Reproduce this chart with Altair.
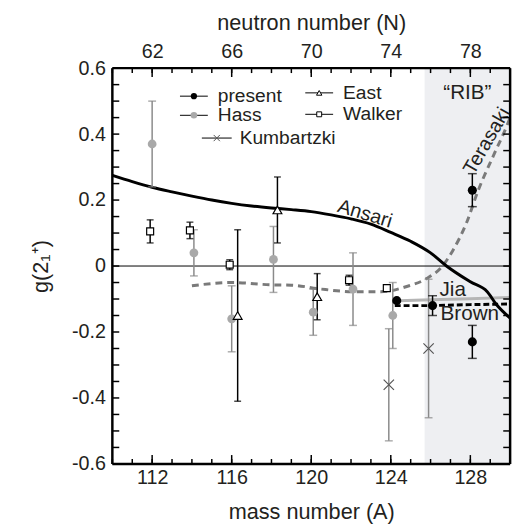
import altair as alt
import pandas as pd

# ---------------- data ----------------
present_A = [124.3, 126.1, 128.1, 128.1]
present_g = [-0.105, -0.12, -0.23, 0.23]
present_err = [0.0, 0.03, 0.05, 0.05]

hass_A = [112.0, 114.1, 116.0, 118.1, 120.1, 122.1, 124.1]
hass_g = [0.37, 0.04, -0.16, 0.02, -0.14, -0.07, -0.15]
hass_err = [0.13, 0.07, 0.10, 0.10, 0.07, 0.11, 0.10]

walker_A = [111.9, 113.9, 115.9, 121.9, 123.8]
walker_g = [0.105, 0.108, 0.004, -0.043, -0.067]
walker_err = [0.035, 0.025, 0.015, 0.015, 0.008]

east_A = [116.3, 118.3, 120.3]
east_g = [-0.15, 0.17, -0.093]
east_err = [0.26, 0.10, 0.07]

kumb_A = [123.9, 125.9]
kumb_g = [-0.36, -0.25]
kumb_err = [0.17, 0.21]

ansari_A = [110, 111, 112, 113, 114, 115, 116, 117, 118, 119, 120, 121, 122, 123, 124, 125,
            126, 126.8, 128, 128.85, 129.3, 130]
ansari_g = [0.275, 0.256, 0.239, 0.225, 0.212, 0.200, 0.19, 0.182, 0.176, 0.171, 0.165,
            0.155, 0.143, 0.127, 0.102, 0.075, 0.04, 0.0, -0.048, -0.078, -0.116, -0.158]

terasaki_A = [114, 116, 118, 119, 120.5, 122.2, 123.5, 124.8, 125.8, 126.6, 127.1, 127.8,
              128.4, 129.2, 129.8, 130]
terasaki_g = [-0.06, -0.05, -0.057, -0.058, -0.07, -0.078, -0.078, -0.062, -0.038, 0.0,
              0.045, 0.13, 0.23, 0.34, 0.42, 0.45]

jia_A = [124.4, 126, 128, 130]
jia_g = [-0.105, -0.102, -0.099, -0.095]

brown_A = [124.2, 126, 128, 130]
brown_g = [-0.12, -0.12, -0.117, -0.115]

rib_range = [125.7, 130]

x_major = [112, 116, 120, 124, 128]
x_minor = list(range(110, 131))
y_major = [-0.6, -0.4, -0.2, 0, 0.2, 0.4, 0.6]
y_minor = [round(-0.6 + 0.05 * i, 2) for i in range(25)]

# ---------------- layout ----------------
W, H = 404, 402
FONT = "Liberation Sans"
TXT = "#231f20"
GRAY_PT = "#a9a9a9"
GRAY_BAR = "#8a8a8a"

xs = alt.Scale(domain=[110, 130], nice=False, zero=False)
ys = alt.Scale(domain=[-0.6, 0.6], nice=False, zero=False)


def X(axis=None):
    return alt.X("A:Q", scale=xs, axis=axis)


def Y(axis=None):
    return alt.Y("g:Q", scale=ys, axis=axis)


def df(A, g, err=None):
    d = pd.DataFrame({"A": A, "g": g})
    if err is not None:
        d["lo"] = [a - e for a, e in zip(g, err)]
        d["hi"] = [a + e for a, e in zip(g, err)]
    return d


common = dict(tickSize=0, domain=False, grid=False, labelFontSize=20, titleFontSize=22,
              labelColor=TXT, titleColor=TXT, titleFontWeight="normal",
              labelFont=FONT, titleFont=FONT)
bottom_axis = alt.Axis(orient="bottom", values=x_major, title="mass number (A)",
                       labelPadding=4, titlePadding=14, **common)
top_axis = alt.Axis(orient="top", values=x_major, title="neutron number (N)",
                    labelExpr="datum.value - 50", labelPadding=7, titlePadding=7, **common)
left_axis = alt.Axis(orient="left", values=y_major, title="g(2₁⁺)",
                     labelExpr="datum.value == 0 ? '0' : (datum.value < 0 ? '-' : '') + format(abs(datum.value), '.1f')",
                     labelPadding=7, titlePadding=19, **common)

# shaded "RIB" region (carries bottom and left axes)
shade = alt.Chart(pd.DataFrame({"A": [rib_range[0]], "A2": [rib_range[1]],
                                "g": [-0.6], "g2": [0.6]})).mark_rect(
    color="#eeeff2").encode(x=X(bottom_axis), x2="A2:Q", y=Y(left_axis), y2="g2:Q")

# zero line (carries top axis)
zero = alt.Chart(df([110, 130], [0, 0])).mark_line(color="black", strokeWidth=1).encode(
    x=X(top_axis), y=Y())

terasaki = alt.Chart(df(terasaki_A, terasaki_g)).mark_line(
    color="#7a7a7a", strokeWidth=3, strokeDash=[7, 5], interpolate="monotone").encode(x=X(), y=Y())
jia = alt.Chart(df(jia_A, jia_g)).mark_line(color="#b5b5b5", strokeWidth=3).encode(x=X(), y=Y())
brown = alt.Chart(df(brown_A, brown_g)).mark_line(
    color="black", strokeWidth=3, strokeDash=[6, 3]).encode(x=X(), y=Y())
ansari = alt.Chart(df(ansari_A, ansari_g)).mark_line(
    color="black", strokeWidth=3, interpolate="monotone").encode(x=X(), y=Y())


def errbars(d, color, cap=8):
    base = alt.Chart(d[d["hi"] > d["lo"]])
    rule = base.mark_rule(color=color, strokeWidth=1.5).encode(
        x=X(), y=alt.Y("lo:Q", scale=ys, axis=None), y2="hi:Q")
    t1 = base.mark_tick(color=color, orient="horizontal", size=cap, thickness=1.5).encode(
        x=X(), y=alt.Y("lo:Q", scale=ys, axis=None))
    t2 = base.mark_tick(color=color, orient="horizontal", size=cap, thickness=1.5).encode(
        x=X(), y=alt.Y("hi:Q", scale=ys, axis=None))
    return [rule, t1, t2]


d_present = df(present_A, present_g, present_err)
d_hass = df(hass_A, hass_g, hass_err)
d_walker = df(walker_A, walker_g, walker_err)
d_east = df(east_A, east_g, east_err)
d_kumb = df(kumb_A, kumb_g, kumb_err)

bars = (errbars(d_hass, GRAY_BAR) + errbars(d_kumb, GRAY_BAR) + errbars(d_walker, "black", 7)
        + errbars(d_east, "black", 7) + errbars(d_present, "black", 9))

XSHAPE = "M-1,-1L1,1M-1,1L1,-1"

p_hass = alt.Chart(d_hass).mark_point(shape="circle", filled=True, color=GRAY_PT, size=80,
                                      opacity=1).encode(x=X(), y=Y())
p_kumb = alt.Chart(d_kumb).mark_point(shape=XSHAPE, filled=False, color="#555555", size=110,
                                      strokeWidth=1.2, opacity=1).encode(x=X(), y=Y())
p_walker = alt.Chart(d_walker).mark_point(shape="square", filled=True, fill="white",
                                          stroke="black", strokeWidth=1.2, size=50,
                                          opacity=1).encode(x=X(), y=Y())
p_east = alt.Chart(d_east).mark_point(shape="triangle-up", filled=True, fill="white",
                                      stroke="black", strokeWidth=1.2, size=80,
                                      opacity=1).encode(x=X(), y=Y())
p_present = alt.Chart(d_present).mark_point(shape="circle", filled=True, color="black",
                                            size=85, opacity=1).encode(x=X(), y=Y())

# curve labels
def label(text, A, g, angle=0, size=21, align="center", color=TXT):
    return alt.Chart(pd.DataFrame({"A": [A], "g": [g], "t": [text]})).mark_text(
        font=FONT, fontSize=size, angle=angle, align=align, baseline="middle",
        color=color).encode(x=X(), y=Y(), text="t:N")


labels = [
    label("Ansari", 122.7, 0.158, angle=17, size=20),
    label("Terasaki", 128.84, 0.379, angle=300, size=20),
    label("Jia", 126.45, -0.072, align="left", size=21),
    label("Brown", 126.5, -0.146, align="left", size=21),
    label("\u201cRIB\u201d", 127.85, 0.525, size=21),
]

# legend (manual, inside plot)
leg_items = [
    ("present", 113.4, 114.8, 115.3, 0.515, "present"),
    ("Hass", 113.4, 114.8, 115.3, 0.457, "hass"),
    ("Kumbartzki", 114.5, 116.0, 116.4, 0.388, "kumb"),
    ("East", 119.7, 121.1, 121.6, 0.525, "east"),
    ("Walker", 119.7, 121.1, 121.6, 0.46, "walker"),
]
legend_layers = []
for name, a0, a1, at, g, kind in leg_items:
    line = alt.Chart(pd.DataFrame({"A": [a0, a1], "g": [g, g]})).mark_line(
        color="black", strokeWidth=1).encode(x=X(), y=Y())
    mid = pd.DataFrame({"A": [(a0 + a1) / 2], "g": [g]})
    if kind == "present":
        mk = alt.Chart(mid).mark_point(shape="circle", filled=True, color="black", size=40, opacity=1)
    elif kind == "hass":
        mk = alt.Chart(mid).mark_point(shape="circle", filled=True, color=GRAY_PT, size=45, opacity=1)
    elif kind == "kumb":
        mk = alt.Chart(mid).mark_point(shape=XSHAPE, filled=False, color="#555555", size=40,
                                       strokeWidth=1, opacity=1)
    elif kind == "east":
        mk = alt.Chart(mid).mark_point(shape="triangle-up", filled=True, fill="white",
                                       stroke="black", strokeWidth=1, size=30, opacity=1)
    else:
        mk = alt.Chart(mid).mark_point(shape="square", filled=True, fill="white",
                                       stroke="black", strokeWidth=1, size=25, opacity=1)
    mk = mk.encode(x=X(), y=Y())
    legend_layers += [line, mk, label(name, at, g, align="left", size=19.5)]

# inward ticks and frame
one = pd.DataFrame({"d": [0]})
tick_layers = []
dxmin = pd.DataFrame({"A": x_minor})
dxmaj = pd.DataFrame({"A": x_major})
dy = pd.DataFrame({"g": y_minor})
for d, ln in [(dxmin, 5), (dxmaj, 9)]:
    tick_layers.append(alt.Chart(d).mark_rule(color="black", strokeWidth=1.5).encode(
        x=X(), y=alt.value(H), y2=alt.value(H - ln)))
    tick_layers.append(alt.Chart(d).mark_rule(color="black", strokeWidth=1.5).encode(
        x=X(), y=alt.value(0), y2=alt.value(ln)))
tick_layers.append(alt.Chart(dy).mark_rule(color="black", strokeWidth=1.5).encode(
    y=Y(), x=alt.value(0), x2=alt.value(7)))
tick_layers.append(alt.Chart(dy).mark_rule(color="black", strokeWidth=1.5).encode(
    y=Y(), x=alt.value(W), x2=alt.value(W - 7)))
frame = [
    alt.Chart(one).mark_rule(color="black", strokeWidth=2.5).encode(
        x=alt.value(0), y=alt.value(0), y2=alt.value(H)),
    alt.Chart(one).mark_rule(color="black", strokeWidth=2.5).encode(
        x=alt.value(W), y=alt.value(0), y2=alt.value(H)),
    alt.Chart(one).mark_rule(color="black", strokeWidth=2.5).encode(
        y=alt.value(0), x=alt.value(0), x2=alt.value(W)),
    alt.Chart(one).mark_rule(color="black", strokeWidth=2.5).encode(
        y=alt.value(H), x=alt.value(0), x2=alt.value(W)),
]

chart = alt.layer(
    shade, zero, terasaki, jia, brown, ansari, *bars,
    p_hass, p_kumb, p_walker, p_east, p_present,
    *labels, *legend_layers, *tick_layers, *frame
).resolve_axis(x="independent", y="independent").properties(
    width=W, height=H,
    padding={"left": 22, "top": 0, "right": 2, "bottom": 2},
).configure_view(stroke=None)

chart.save("out.html", embed_options={"renderer": "svg", "actions": False})
